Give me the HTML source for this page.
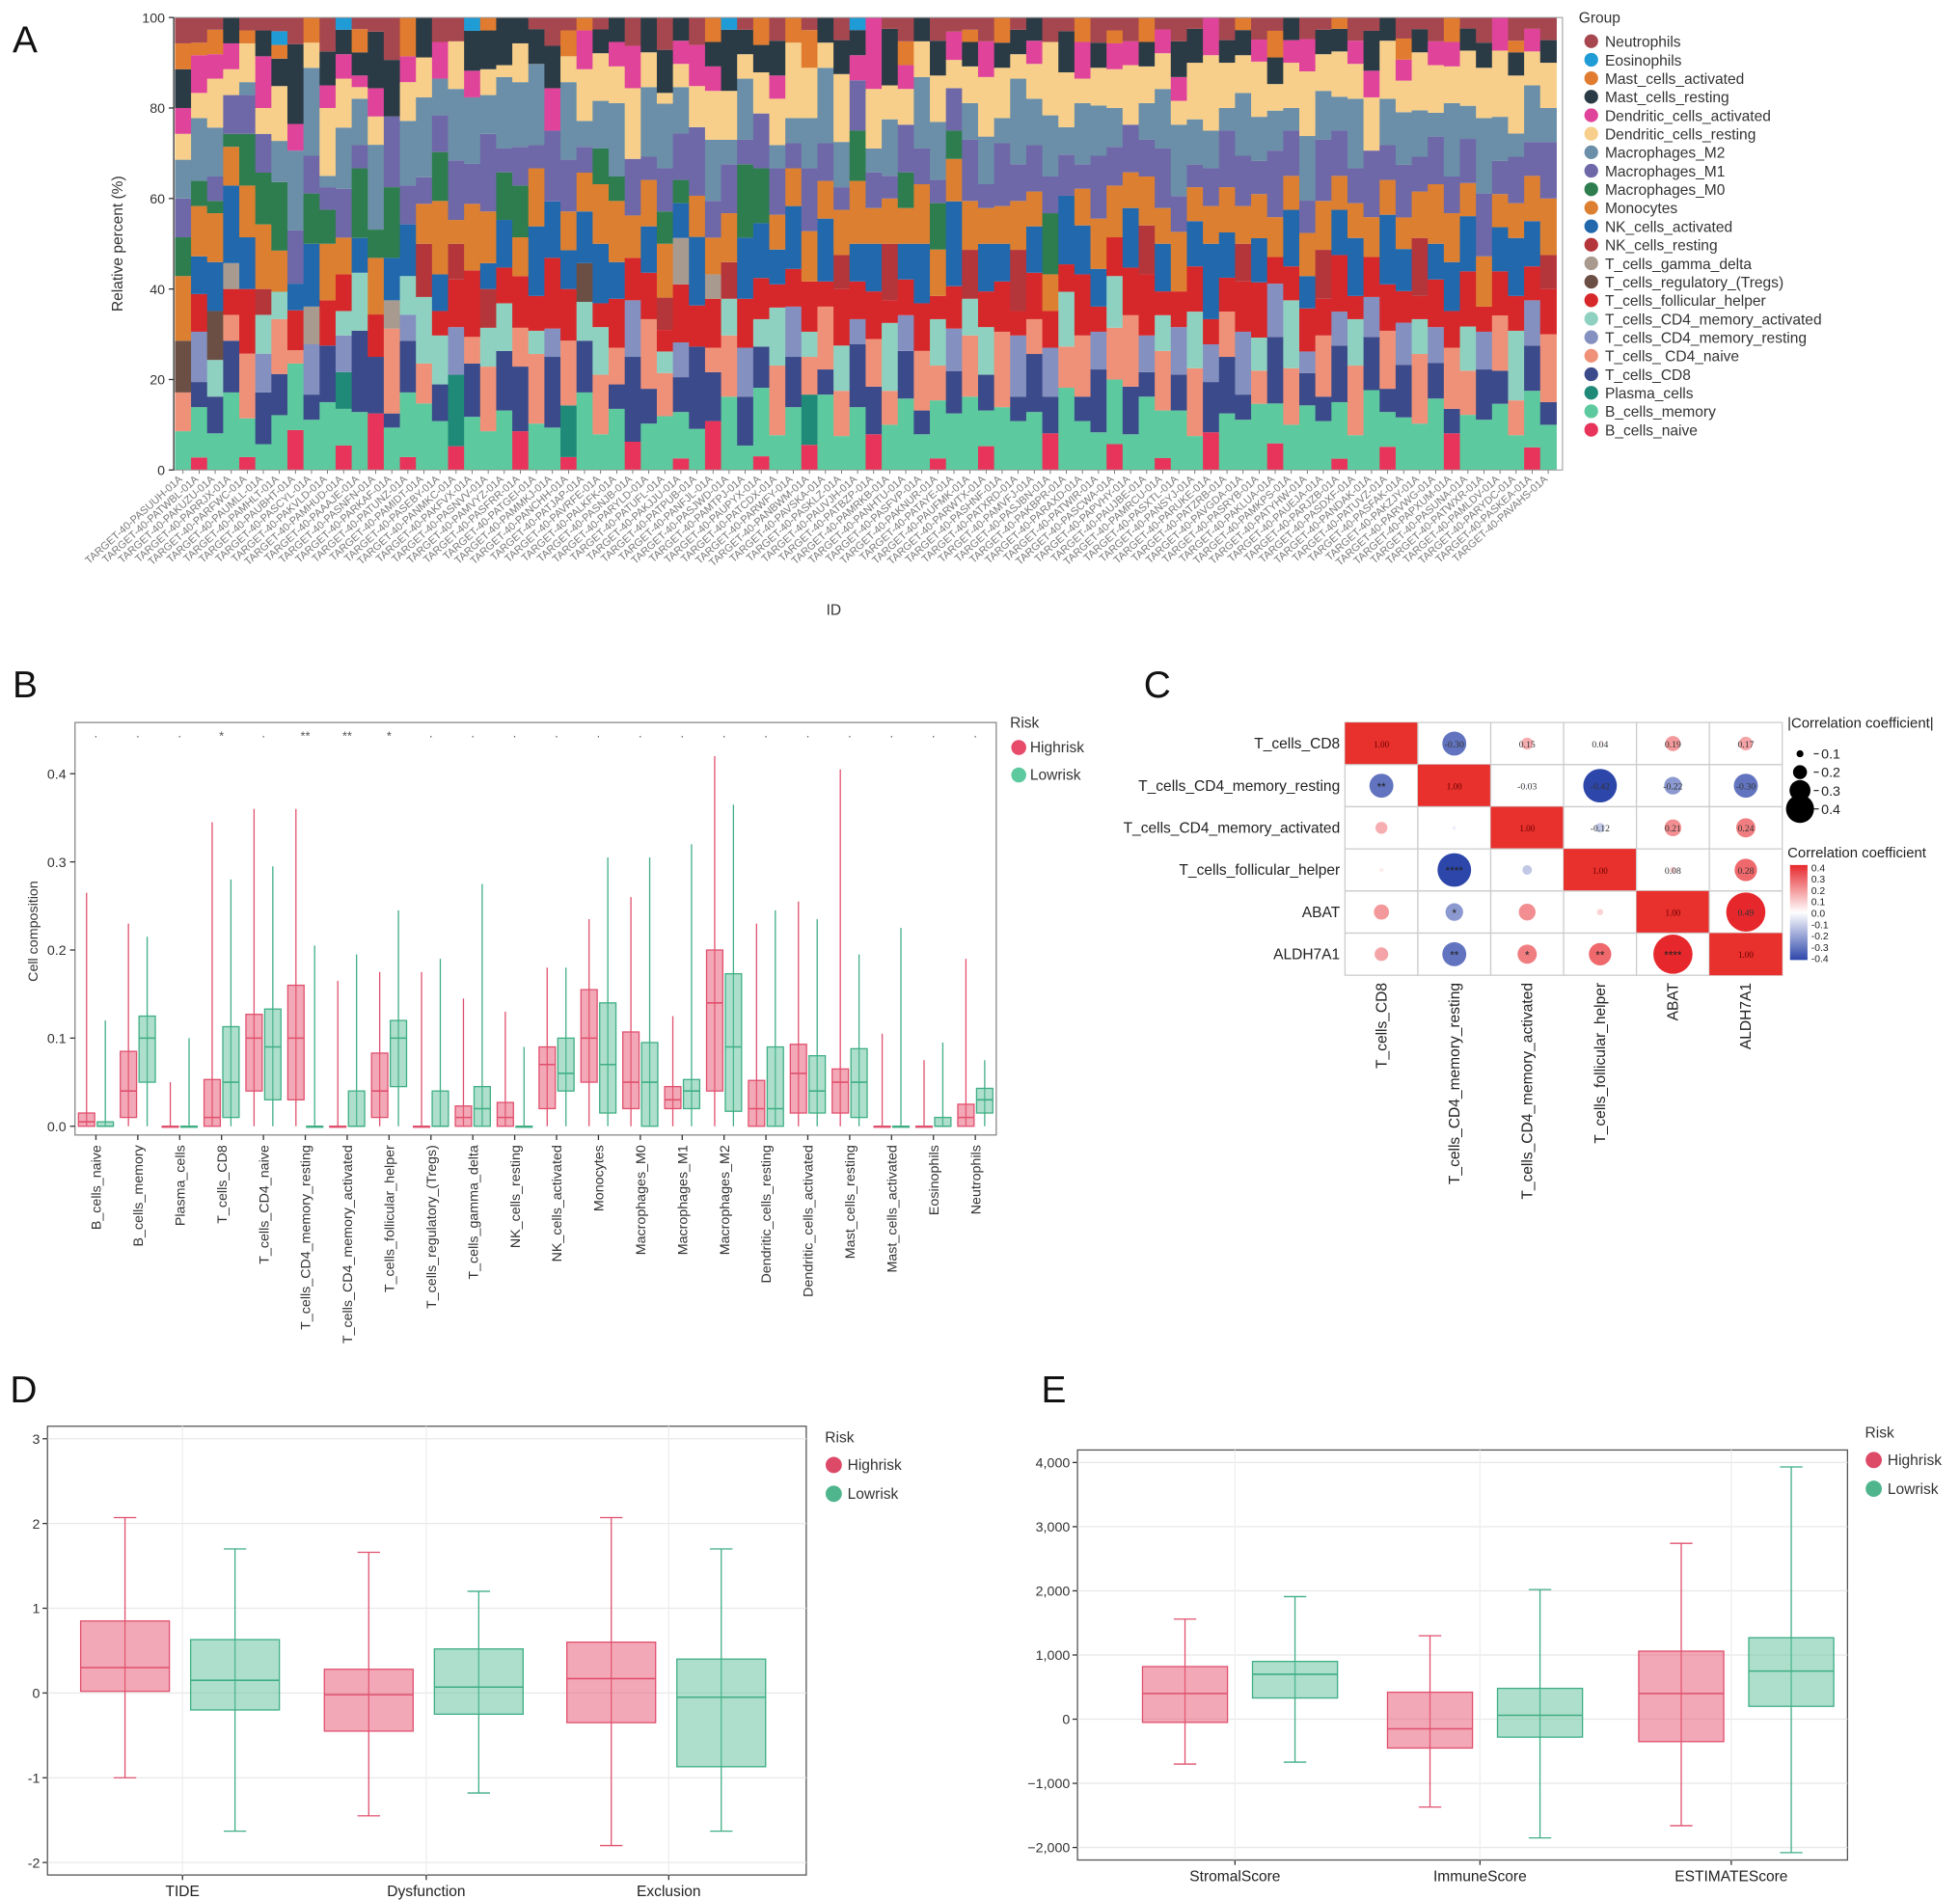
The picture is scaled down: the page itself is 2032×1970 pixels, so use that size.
<!DOCTYPE html>
<html><head><meta charset="utf-8"><style>
html,body{margin:0;padding:0;background:#fff}
svg{display:block;font-family:"Liberation Sans",sans-serif}
</style></head><body>
<svg id="fig" width="2032" height="1970" viewBox="0 0 1568 1520" preserveAspectRatio="none" xmlns="http://www.w3.org/2000/svg">
<g id="A"></g>
<g id="B"></g>
<g id="C"></g>
<g id="D"></g>
<g id="E"></g>
</svg>
<script>
// ---------- Panel A data ----------
const cellTypes=["B_cells_naive","B_cells_memory","Plasma_cells","T_cells_CD8","T_cells_ CD4_naive","T_cells_CD4_memory_resting","T_cells_CD4_memory_activated","T_cells_follicular_helper","T_cells_regulatory_(Tregs)","T_cells_gamma_delta","NK_cells_resting","NK_cells_activated","Monocytes","Macrophages_M0","Macrophages_M1","Macrophages_M2","Dendritic_cells_resting","Dendritic_cells_activated","Mast_cells_resting","Mast_cells_activated","Eosinophils","Neutrophils"];
const cellColors=["#e8345a","#5cc99e","#1f8a78","#3b4a8a","#ef9178","#8490c0","#8fd1c0","#d6282b","#6b4f45","#a89a8e","#b5363a","#2268ad","#dc7f30","#2e7d4f","#6e68a8","#6b8fa8","#f7cf8a","#e0449a","#2b3b45","#e07b2f","#1f9bd6","#a6464f"];
const composition=["0300300040005333223202","1402040300034205230102","0303003040044124420201","0604200202063130222000","1300500500044431300101","0204033000205430242001","0403402000003503402111","3500100300020046026002","0402040003050437200200","0605000400005321623003","2330032300003045422010","0507005000030624112201","4004000300004206224001","0301600002030550004003","1504023000040035320300","0500305000403026303000","0403004200036433030002","2060040400302056400002","0404200500005035023010","0300503000324063203100","0505004300040426104000","3005300400003435302000","0400602300065027003001","0305020500040050033002","1040500400033046200201","0604003030043022430100","0300504200055304402001","0502300400035206322000","2006040300003040530002","0403600400044026303000","0500402200305346104003","1403030504030244222000","0306000300053050330002","4004200402003035422200","0600503000304042405010","0204040400050625202001","1503002300040440302200","0300605200033042423002","0504040300053022600200","2040302400004054400301","0602500200053036202000","0300404500304024603002","0505020300035440022010","3004400400043032560000","0400306200504025305001","0604030300033340320202","0302500400055036302000","1500304200004425403002","0403030300063230220001","0600503000404053302101","2303004300043024530002","0500600400033052402200","0402050200504037202001","0505300400043044322000","3003040300003535600002","0600304200050032403001","0402500500043025230200","0305030200034054302002","2500404300004033320101","0304600400053040520002","0602030500404033302200","1400503200043055320001","0503040300005036223002","0300605400043024503001","3004030200063033630000","0505400300044052402002","0402050400303045302100","0600303500044034520002","2305040200003053202201","0400506300053042422000","0603020400034036630002","0402500300404054302001","1505030500043043402100","0300604200053036320002","0604030300003050423001","2302500400063034502000","0505040300043055320202","0400603200504034502001","0603030400035042420002","3002500300044036320200","0500404500053043502001","0404030200004056402002","0603500400043034630000","0300306300053042502102","2504040300044035320001","0402600400305053402002"];
const idCodes=["SUUH","TWBL","KUZU","RRJX","RFWC","UMLL","MHLT","UBHT","SCYL","KVLD","MHUD","AAJE","SNFN","RKAF","TUNZ","MIDT","SEBY","NMKC","KFVX","SNVV","MVYZ","SFRR","TGEI","MMKJ","NCHH","TJAP","VRFE","LKFK","SNJB","RYLD","TUFL","KJJU","TPUB","NFJL","SJWD","MTPJ","UPYX","TCDX","RWFY","NBWM","VSKA","SKLZ","UVJH","TBZP","MRKB","NHTU","SFVP","KNUR","TAYE","UFMK","RWTX","SHNF","TXRD","MVFJ","SJBN","KBPR","RAXD","TWIR","SCWA","PVHY","UJBE","MRCU","SXTL","NSYJ","RUKE","TZRB","VGDA","SRYB","KLUA","MKPS","TYHW","UEJA","RJZB","SDXF","NDAK","TUVZ","SFAK","KZJY","RVWG","PXUM","SUNA","TWXR","MLDV","RYDC","SKEA","VAHS"];
const yTicksA=[0,20,40,60,80,100];

// ---------- Panel B data ----------
const catsB=["B_cells_naive","B_cells_memory","Plasma_cells","T_cells_CD8","T_cells_CD4_naive","T_cells_CD4_memory_resting","T_cells_CD4_memory_activated","T_cells_follicular_helper","T_cells_regulatory_(Tregs)","T_cells_gamma_delta","NK_cells_resting","NK_cells_activated","Monocytes","Macrophages_M0","Macrophages_M1","Macrophages_M2","Dendritic_cells_resting","Dendritic_cells_activated","Mast_cells_resting","Mast_cells_activated","Eosinophils","Neutrophils"];
const highQ1=[0,0.01,0,0,0.04,0.03,0,0.01,0,0,0,0.02,0.05,0.02,0.02,0.04,0,0.015,0.015,0,0,0];
const highMed=[0.005,0.04,0,0.01,0.1,0.1,0,0.04,0,0.01,0.01,0.07,0.1,0.05,0.03,0.14,0.02,0.06,0.05,0,0,0.01];
const highQ3=[0.015,0.085,0,0.053,0.127,0.16,0,0.083,0,0.023,0.027,0.09,0.155,0.107,0.045,0.2,0.052,0.093,0.065,0,0,0.025];
const highMax=[0.265,0.23,0.05,0.345,0.36,0.36,0.165,0.175,0.175,0.145,0.13,0.18,0.235,0.26,0.125,0.42,0.23,0.255,0.405,0.105,0.075,0.19];
const lowQ1=[0,0.05,0,0.01,0.03,0,0,0.045,0,0,0,0.04,0.015,0,0.02,0.017,0,0.015,0.01,0,0,0.015];
const lowMed=[0,0.1,0,0.05,0.09,0,0,0.1,0,0.02,0,0.06,0.07,0.05,0.04,0.09,0.02,0.04,0.05,0,0,0.03];
const lowQ3=[0.005,0.125,0,0.113,0.133,0,0.04,0.12,0.04,0.045,0,0.1,0.14,0.095,0.053,0.173,0.09,0.08,0.088,0,0.01,0.043];
const lowMax=[0.12,0.215,0.1,0.28,0.295,0.205,0.195,0.245,0.19,0.275,0.09,0.18,0.305,0.305,0.32,0.365,0.245,0.235,0.195,0.225,0.095,0.075];
const sigB=["ns","ns","ns","*","ns","**","**","*","ns","ns","ns","ns","ns","ns","ns","ns","ns","ns","ns","ns","ns","ns"];
const yTicksB=[0,0.1,0.2,0.3,0.4];

// ---------- Panel C data ----------
const varsC=["T_cells_CD8","T_cells_CD4_memory_resting","T_cells_CD4_memory_activated","T_cells_follicular_helper","ABAT","ALDH7A1"];
const corrRow0=[1,-0.30,0.15,0.04,0.19,0.17];
const corrRow1=[-0.30,1,-0.03,-0.42,-0.22,-0.30];
const corrRow2=[0.15,-0.03,1,-0.12,0.21,0.24];
const corrRow3=[0.04,-0.42,-0.12,1,0.08,0.28];
const corrRow4=[0.19,-0.22,0.21,0.08,1,0.49];
const corrRow5=[0.17,-0.30,0.24,0.28,0.49,1];
const starsLower={"1_0":"**","3_1":"****","4_1":"*","5_1":"**","5_2":"*","5_3":"**","5_4":"****"};

// ---------- Panel D data ----------
const catsD=["TIDE","Dysfunction","Exclusion"];
const dHigh={q1:[0.02,-0.45,-0.35],med:[0.3,-0.02,0.17],q3:[0.85,0.28,0.6],lo:[-1.0,-1.45,-1.8],hi:[2.07,1.66,2.07]};
const dLow={q1:[-0.2,-0.25,-0.87],med:[0.15,0.07,-0.05],q3:[0.63,0.52,0.4],lo:[-1.63,-1.18,-1.63],hi:[1.7,1.2,1.7]};
const yTicksD=[-2,-1,0,1,2,3];

// ---------- Panel E data ----------
const catsE=["StromalScore","ImmuneScore","ESTIMATEScore"];
const eHigh={q1:[-50,-450,-350],med:[400,-150,400],q3:[820,420,1060],lo:[-700,-1370,-1660],hi:[1560,1300,2740]};
const eLow={q1:[330,-280,200],med:[700,60,750],q3:[900,480,1270],lo:[-670,-1850,-2080],hi:[1910,2020,3930]};
const yTicksE=[-2000,-1000,0,1000,2000,3000,4000];

const NS="http://www.w3.org/2000/svg";
function mk(parent,tag,attrs,text){const e=document.createElementNS(NS,tag);for(const k in attrs)e.setAttribute(k,attrs[k]);if(text!==undefined)e.textContent=text;parent.appendChild(e);return e;}
const HIF="rgba(232,96,122,0.55)",LOF="rgba(92,191,154,0.5)";
function panelLetter(g,t,x,y){const e=mk(g,"text",{x:x,y:y,"font-size":30,fill:"#111"},t);}

// ===== Panel A =====
(function(){
const g=document.getElementById("A");
panelLetter(g,"A",10,42);
const x0=140,x1=1245,y0=376,y1=14;
const ya=v=>y0-(v/100)*(y0-y1);
const n=composition.length,bw=(x1-x0)/n;
composition.forEach((s,i)=>{
  const vals=cellTypes.map((_,k)=>+(s[k]||0));
  const tot=vals.reduce((a,b)=>a+b,0)||1;
  let acc=0;
  vals.forEach((v,k)=>{ if(!v)return;
    const r=mk(g,"rect",{x:x0+i*bw,y:ya((acc+v)/tot*100),width:bw+0.4,height:ya(acc/tot*100)-ya((acc+v)/tot*100),fill:cellColors[k]});
    
    
    acc+=v;});
  const cx=x0+(i+0.5)*bw;
  mk(g,"line",{x1:cx,x2:cx,y1:y0,y2:y0+3,stroke:"#555","stroke-width":0.6});
  const t=mk(g,"text",{x:cx,y:y0+8,"font-size":8.5,fill:"#777","text-anchor":"end",transform:`rotate(-42 ${cx} ${y0+8})`},"TARGET-40-PA"+(idCodes[i]||"XXXX")+"-01A");
  
  
});
mk(g,"rect",{x:x0-1,y:y1,width:x1-x0+6,height:y0-y1,fill:"none",stroke:"#999","stroke-width":0.8});
mk(g,"line",{x1:x0-1,x2:x0-1,y1:y1,y2:y0,stroke:"#333","stroke-width":1});
yTicksA.forEach(v=>{mk(g,"line",{x1:x0-5,x2:x0-1,y1:ya(v),y2:ya(v),stroke:"#333"});
  const t=mk(g,"text",{x:x0-8,y:ya(v)+4,"font-size":11,"text-anchor":"end",fill:"#333"},v);});
const yt=mk(g,"text",{x:98,y:195,"font-size":12,"text-anchor":"middle",fill:"#333",transform:"rotate(-90 98 195)"},"Relative percent (%)");

const xt=mk(g,"text",{x:667,y:492,"font-size":12,"text-anchor":"middle",fill:"#333"},"ID");

const lg=mk(g,"g",{});
mk(lg,"text",{x:1263,y:18,"font-size":12,fill:"#333"},"Group");
for(let k=cellTypes.length-1,j=0;k>=0;k--,j++){
  const y=33+j*14.8;
  mk(lg,"circle",{cx:1273,cy:y,r:5.5,fill:cellColors[k]});
  const t=mk(lg,"text",{x:1284,y:y+4.5,"font-size":12,fill:"#333"},cellTypes[k]);
  
}
})();

// ===== Panel B =====
(function(){
const g=document.getElementById("B");
panelLetter(g,"B",10,558);
const x0=60,x1=797,yT=578,yB=908;
const yb=v=>901-v*705;
const n=catsB.length,cw=(x1-x0)/n;
mk(g,"rect",{x:x0,y:yT,width:x1-x0,height:yB-yT,fill:"#fff",stroke:"#888","stroke-width":1});
yTicksB.forEach(v=>{mk(g,"line",{x1:x0-4,x2:x0,y1:yb(v),y2:yb(v),stroke:"#333"});
  const t=mk(g,"text",{x:x0-7,y:yb(v)+4,"font-size":11,"text-anchor":"end",fill:"#333"},v.toFixed(1));});
const yt=mk(g,"text",{x:30,y:745,"font-size":11,"text-anchor":"middle",fill:"#333",transform:"rotate(-90 30 745)"},"Cell composition");

function box(cx,w,q1,med,q3,hi,col,fill,name){
  const gg=mk(g,"g",{});
  
  
  mk(gg,"line",{x1:cx,x2:cx,y1:yb(0),y2:yb(hi),stroke:col,"stroke-width":1});
  mk(gg,"rect",{x:cx-w/2,y:yb(q3),width:w,height:Math.max(0.8,yb(q1)-yb(q3)),fill:fill,stroke:col,"stroke-width":1});
  mk(gg,"line",{x1:cx-w/2,x2:cx+w/2,y1:yb(med),y2:yb(med),stroke:col,"stroke-width":1.2});
}
catsB.forEach((c,i)=>{
  const cx=x0+(i+0.5)*cw;
  box(cx-7.5,13,highQ1[i],highMed[i],highQ3[i],highMax[i],"#e0506e",HIF,"box-highrisk");
  box(cx+7.5,13,lowQ1[i],lowMed[i],lowQ3[i],lowMax[i],"#3fae85",LOF,"box-lowrisk");
  mk(g,"line",{x1:cx,x2:cx,y1:yB,y2:yB+4,stroke:"#333"});
  const t=mk(g,"text",{x:cx+4,y:916,"font-size":11,"text-anchor":"end",fill:"#333",transform:`rotate(-90 ${cx+4} 916)`},c);
  
  const s=sigB[i]==="ns"?"·":sigB[i];
  mk(g,"text",{x:cx,y:592,"font-size":10,"text-anchor":"middle",fill:"#555"},s);
});
const lg=mk(g,"g",{});
mk(lg,"text",{x:808,y:582,"font-size":12,fill:"#333"},"Risk");
mk(lg,"circle",{cx:815,cy:598,r:6,fill:"#e84a6a"});mk(lg,"text",{x:824,y:602,"font-size":12,fill:"#333"},"Highrisk");
mk(lg,"circle",{cx:815,cy:620,r:6,fill:"#5cc99e"});mk(lg,"text",{x:824,y:624,"font-size":12,fill:"#333"},"Lowrisk");
})();

// ===== Panel C =====
(function(){
const g=document.getElementById("C");
panelLetter(g,"C",915,558);
const rows=[corrRow0,corrRow1,corrRow2,corrRow3,corrRow4,corrRow5];
const x0=1076,y0=578,cw=58.3,ch=33.7;
function col(r){const a=Math.min(1,Math.abs(r)/0.4);
  if(r>=0){return `rgb(${Math.round(255-(255-230)*a)},${Math.round(255-(255-40)*a)},${Math.round(255-(255-45)*a)})`;}
  return `rgb(${Math.round(255-(255-45)*a)},${Math.round(255-(255-70)*a)},${Math.round(255-(255-170)*a)})`;}
varsC.forEach((v,i)=>{
  const t=mk(g,"text",{x:x0-4,y:y0+(i+0.5)*ch+4,"font-size":12,"text-anchor":"end",fill:"#222"},v);
  
  const cx=x0+(i+0.5)*cw;
  const t2=mk(g,"text",{x:cx+4,y:y0+6*ch+6,"font-size":12,"text-anchor":"end",fill:"#222",transform:`rotate(-90 ${cx+4} ${y0+6*ch+6})`},v);
  
});
rows.forEach((row,i)=>row.forEach((r,j)=>{
  const x=x0+j*cw,y=y0+i*ch,cx=x+cw/2,cy=y+ch/2;
  mk(g,"rect",{x:x,y:y,width:cw,height:ch,fill:"#fff",stroke:"#ccc","stroke-width":1});
  if(i===j){const c=mk(g,"rect",{x:x,y:y,width:cw,height:ch,fill:"#e8302c"});
    mk(g,"text",{x:cx,y:cy+3,"font-size":7,"text-anchor":"middle",fill:"#600","font-family":"Liberation Serif"},"1.00");return;}
  const rad=Math.max(1.5,Math.abs(r)*32);
  const c=mk(g,"circle",{cx:cx,cy:cy,r:rad,fill:col(r)});
  
  if(j>i){mk(g,"text",{x:cx,y:cy+3,"font-size":7.5,"text-anchor":"middle",fill:"#333","font-family":"Liberation Serif"},r.toFixed(2));}
  else{const s=starsLower[i+"_"+j];if(s)mk(g,"text",{x:cx,y:cy+4,"font-size":9,"text-anchor":"middle",fill:"#222"},s);}
}));
const lg=mk(g,"g",{});
mk(lg,"text",{x:1430,y:582,"font-size":11.5,fill:"#222"},"|Correlation coefficient|");
[0.1,0.2,0.3,0.4].forEach((v,k)=>{const y=603+k*14.7;mk(lg,"circle",{cx:1440,cy:y,r:v*28,fill:"#000"});mk(lg,"line",{x1:1451,x2:1455,y1:y,y2:y,stroke:"#333"});mk(lg,"text",{x:1457,y:y+4,"font-size":11,fill:"#222"},v.toFixed(1));});
mk(lg,"text",{x:1430,y:686,"font-size":11.5,fill:"#222"},"Correlation coefficient");
const defs=mk(lg,"defs",{});const gr=mk(defs,"linearGradient",{id:"cg",x1:0,y1:0,x2:0,y2:1});
mk(gr,"stop",{offset:"0",["stop-color"]:"#e6282d"});mk(gr,"stop",{offset:"0.5",["stop-color"]:"#ffffff"});mk(gr,"stop",{offset:"1",["stop-color"]:"#2d46aa"});
mk(lg,"rect",{x:1432,y:692,width:14,height:76,fill:"url(#cg)"});
[0.4,0.3,0.2,0.1,0.0,-0.1,-0.2,-0.3,-0.4].forEach((v,k)=>{const y=694+k*9.1;mk(lg,"text",{x:1449,y:y+3,"font-size":8,fill:"#222"},(v<0?"-":"")+Math.abs(v).toFixed(1));});
})();

// ===== Box panels D/E =====
function boxPanel(id,letter,lx,ly,x0,x1,yT,yBt,vTop,vBot,ticks,fmt,cats,hi,lo,offH,offL,w,legendX,legendY,centers){
const g=document.getElementById(id);
panelLetter(g,letter,lx,ly);
const yv=v=>yT+(vTop-v)/(vTop-vBot)*(yBt-yT);
mk(g,"rect",{x:x0,y:yT-10,width:x1-x0,height:yBt-yT+20,fill:"#fff",stroke:"#555","stroke-width":1});
ticks.forEach(v=>{mk(g,"line",{x1:x0,x2:x1,y1:yv(v),y2:yv(v),stroke:"#e8e8e8"});
  mk(g,"line",{x1:x0-4,x2:x0,y1:yv(v),y2:yv(v),stroke:"#333"});
  const t=mk(g,"text",{x:x0-6,y:yv(v)+4,"font-size":11,"text-anchor":"end",fill:"#333"},fmt(v));});
cats.forEach((c,i)=>{
  const cx=centers[i];
  mk(g,"line",{x1:cx,x2:cx,y1:yT-10,y2:yBt+10,stroke:"#eee"});
  [[hi,offH,"#e0506e",HIF,"box-highrisk"],[lo,offL,"#3fae85",LOF,"box-lowrisk"]].forEach(([d,off,col,fill,name])=>{
    const bx=cx+off;const gg=mk(g,"g",{});
    
    
    mk(gg,"line",{x1:bx,x2:bx,y1:yv(d.lo[i]),y2:yv(d.hi[i]),stroke:col,"stroke-width":1});
    mk(gg,"line",{x1:bx-9,x2:bx+9,y1:yv(d.lo[i]),y2:yv(d.lo[i]),stroke:col});
    mk(gg,"line",{x1:bx-9,x2:bx+9,y1:yv(d.hi[i]),y2:yv(d.hi[i]),stroke:col});
    mk(gg,"rect",{x:bx-w/2,y:yv(d.q3[i]),width:w,height:yv(d.q1[i])-yv(d.q3[i]),fill:fill,stroke:col});
    mk(gg,"line",{x1:bx-w/2,x2:bx+w/2,y1:yv(d.med[i]),y2:yv(d.med[i]),stroke:col,"stroke-width":1.2});
  });
  mk(g,"line",{x1:cx,x2:cx,y1:yBt+10,y2:yBt+14,stroke:"#333"});
  const t=mk(g,"text",{x:cx,y:yBt+27,"font-size":12,"text-anchor":"middle",fill:"#222"},c);
  
});
const lg=mk(g,"g",{});
mk(lg,"text",{x:legendX,y:legendY,"font-size":12,fill:"#333"},"Risk");
mk(lg,"circle",{cx:legendX+7,cy:legendY+18,r:6.5,fill:"#dc4a68"});mk(lg,"text",{x:legendX+18,y:legendY+22,"font-size":12,fill:"#333"},"Highrisk");
mk(lg,"circle",{cx:legendX+7,cy:legendY+41,r:6.5,fill:"#4fb58c"});mk(lg,"text",{x:legendX+18,y:legendY+45,"font-size":12,fill:"#333"},"Lowrisk");
}
boxPanel("D","D",8,1122,38,645,1151,1490,3,-2,yTicksD,v=>v,catsD,dHigh,dLow,-46,42,71,660,1154,[146,341,535]);
boxPanel("E","E",833,1122,862,1478,1170,1478,4000,-2000,yTicksE,v=>(v<0?"\u2212":"")+Math.abs(v).toLocaleString("en-US"),catsE,eHigh,eLow,-40,48,68,1492,1150,[988,1184,1385]);
</script>
</body></html>
